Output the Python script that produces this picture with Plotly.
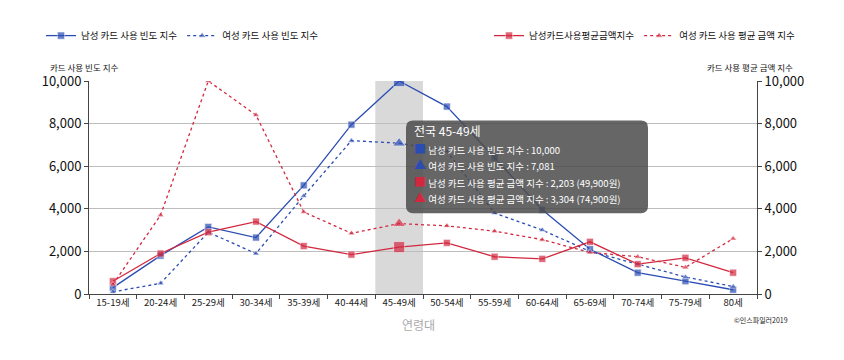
import plotly.graph_objects as go

age_groups = ["15-19세", "20-24세", "25-29세", "30-34세", "35-39세", "40-44세", "45-49세",
              "50-54세", "55-59세", "60-64세", "65-69세", "70-74세", "75-79세", "80세"]
male_freq = [300, 1800, 3150, 2650, 5100, 7950, 10000, 8800, 6400, 3950, 2100, 1000, 600, 200]
female_freq = [100, 500, 2900, 1900, 4600, 7200, 7081, 6700, 3800, 3000, 2000, 1400, 800, 350]
male_amount = [600, 1900, 2900, 3400, 2250, 1850, 2203, 2400, 1750, 1650, 2450, 1400, 1700, 1000]
female_amount = [450, 3700, 10000, 8400, 3850, 2850, 3304, 3200, 2950, 2550, 1950, 1750, 1250, 2600]
male_amount_won = "49,900원"
female_amount_won = "74,900원"
highlight = "45-49세"

BLUE = "#2b4db3"
RED = "#d2283f"
FONT = "Noto Sans CJK KR"

# page has an 8px body margin; figure fills the rest of the 844x360 window
OFF = 8
W, H = 844 - OFF, 360 - OFF
PX0, PX1, PY0, PY1 = 89, 757, 80.5, 294  # plot area in window pixels
L, T = PX0 - OFF, PY0 - OFF
R, B = 844 - PX1, 360 - PY1
PW, PH = PX1 - PX0, PY1 - PY0


def px(x):
    return (x - PX0) / PW


def py(y):
    return (PY1 - y) / PH


hi = age_groups.index(highlight)


def sizes(base, big):
    return [big if i == hi else base for i in range(len(age_groups))]


fig = go.Figure()
fig.add_trace(go.Scatter(x=age_groups, y=male_freq, name="남성 카드 사용 빈도 지수",
                         mode="lines+markers", line=dict(color=BLUE, width=1.3),
                         marker=dict(symbol="square", size=sizes(7, 11), color=BLUE,
                                     line=dict(color="white", width=0.6)),
                         legend="legend"))
fig.add_trace(go.Scatter(x=age_groups, y=female_freq, name="여성 카드 사용 빈도 지수",
                         mode="lines+markers", line=dict(color=BLUE, width=1.3, dash="dot"),
                         marker=dict(symbol="triangle-up", size=sizes(6, 11), color=BLUE,
                                     line=dict(color="white", width=0.6)),
                         legend="legend"))
fig.add_trace(go.Scatter(x=age_groups, y=male_amount, name="남성카드사용평균금액지수",
                         mode="lines+markers", line=dict(color=RED, width=1.3),
                         marker=dict(symbol="square", size=sizes(7, 11), color=RED,
                                     line=dict(color="white", width=0.6)),
                         yaxis="y2", legend="legend2"))
fig.add_trace(go.Scatter(x=age_groups, y=female_amount, name="여성 카드 사용 평균 금액 지수",
                         mode="lines+markers", line=dict(color=RED, width=1.3, dash="dot"),
                         marker=dict(symbol="triangle-up", size=sizes(6, 11), color=RED,
                                     line=dict(color="white", width=0.6)),
                         yaxis="y2", legend="legend2"))

shapes = [dict(type="rect", xref="x", yref="paper", x0=hi - 0.5, x1=hi + 0.5, y0=0, y1=1,
               fillcolor="#d9d9d9", line=dict(width=0), layer="below")]

# tooltip box with rounded corners
bx0, bx1, by0, by1, rr = 406, 648, 120, 213, 7
path = (f"M {px(bx0 + rr)},{py(by0)} L {px(bx1 - rr)},{py(by0)} "
        f"Q {px(bx1)},{py(by0)} {px(bx1)},{py(by0 + rr)} "
        f"L {px(bx1)},{py(by1 - rr)} Q {px(bx1)},{py(by1)} {px(bx1 - rr)},{py(by1)} "
        f"L {px(bx0 + rr)},{py(by1)} Q {px(bx0)},{py(by1)} {px(bx0)},{py(by1 - rr)} "
        f"L {px(bx0)},{py(by0 + rr)} Q {px(bx0)},{py(by0)} {px(bx0 + rr)},{py(by0)} Z")
shapes.append(dict(type="path", xref="paper", yref="paper", path=path,
                   fillcolor="rgba(75,75,75,0.85)", line=dict(width=0), layer="above"))

ann = []
ann.append(dict(xref="paper", yref="paper", x=px(412), y=py(130), xanchor="left", yanchor="middle",
                text="전국 " + highlight, showarrow=False, font=dict(family=FONT, size=12, color="white")))
lines = [
    (BLUE, "■", f"남성 카드 사용 빈도 지수 : {male_freq[hi]:,}"),
    (BLUE, "▲", f"여성 카드 사용 빈도 지수 : {female_freq[hi]:,}"),
    (RED, "■", f"남성 카드 사용 평균 금액 지수 : {male_amount[hi]:,} ({male_amount_won})"),
    (RED, "▲", f"여성 카드 사용 평균 금액 지수 : {female_amount[hi]:,} ({female_amount_won})"),
]
for i, (c, sym, txt) in enumerate(lines):
    yy = 148 + i * 16.5
    ann.append(dict(xref="paper", yref="paper", x=px(412), y=py(yy), xanchor="left", yanchor="middle",
                    text=f"<span style='color:{c};font-size:12px'>{sym}</span> {txt}", showarrow=False,
                    font=dict(family=FONT, size=9.5, color="white")))

ann.append(dict(xref="paper", yref="paper", x=px(48), y=py(66), xanchor="left", yanchor="middle",
                text="카드 사용 빈도 지수", showarrow=False, font=dict(family=FONT, size=8.5, color="#111")))
ann.append(dict(xref="paper", yref="paper", x=px(795), y=py(66), xanchor="right", yanchor="middle",
                text="카드 사용 평균 금액 지수", showarrow=False, font=dict(family=FONT, size=8.5, color="#111")))
ann.append(dict(xref="paper", yref="paper", x=px(418), y=py(325), xanchor="center", yanchor="middle",
                text="연령대", showarrow=False, font=dict(family=FONT, size=12, color="#aaaaaa")))
ann.append(dict(xref="paper", yref="paper", x=px(790), y=py(320), xanchor="right", yanchor="middle",
                text="©인스파일러2019", showarrow=False, font=dict(family=FONT, size=7, color="#222")))

fig.update_layout(
    width=W, height=H,
    margin=dict(l=L, r=R, t=T, b=B, pad=0, autoexpand=False),
    paper_bgcolor="white", plot_bgcolor="white",
    font=dict(family=FONT, color="#222"),
    showlegend=True,
    legend=dict(orientation="h", x=px(41), y=py(35), xanchor="left", yanchor="middle",
                font=dict(family=FONT, size=9.5, color="#111"), itemwidth=30, bgcolor="rgba(0,0,0,0)"),
    legend2=dict(orientation="h", x=px(800), y=py(35), xanchor="right", yanchor="middle",
                 font=dict(family=FONT, size=9.5, color="#111"), itemwidth=30, bgcolor="rgba(0,0,0,0)"),
    xaxis=dict(type="category", categoryorder="array", categoryarray=age_groups,
               range=[-0.5, len(age_groups) - 0.5],
               showline=True, linecolor="#444", linewidth=1,
               ticks="outside", tickson="boundaries", ticklen=4, tickcolor="#444",
               showgrid=False, tickfont=dict(family=FONT, size=9.5, color="#222")),
    yaxis=dict(range=[0, 10000], tickvals=[0, 2000, 4000, 6000, 8000, 10000], tickformat=",",
               showline=True, linecolor="#444", linewidth=1, ticks="outside", ticklen=4,
               tickcolor="#444", gridcolor="#bdbdbd", gridwidth=1, zeroline=False,
               tickfont=dict(family=FONT, size=13, color="#111")),
    yaxis2=dict(range=[0, 10000], tickvals=[0, 2000, 4000, 6000, 8000, 10000], tickformat=",",
                overlaying="y", side="right", showline=True, linecolor="#444", linewidth=1,
                ticks="outside", ticklen=4, tickcolor="#444", showgrid=False, zeroline=False,
                tickfont=dict(family=FONT, size=13, color="#111")),
    shapes=shapes, annotations=ann,
    hovermode=False,
)

fig.write_html("out.html")
